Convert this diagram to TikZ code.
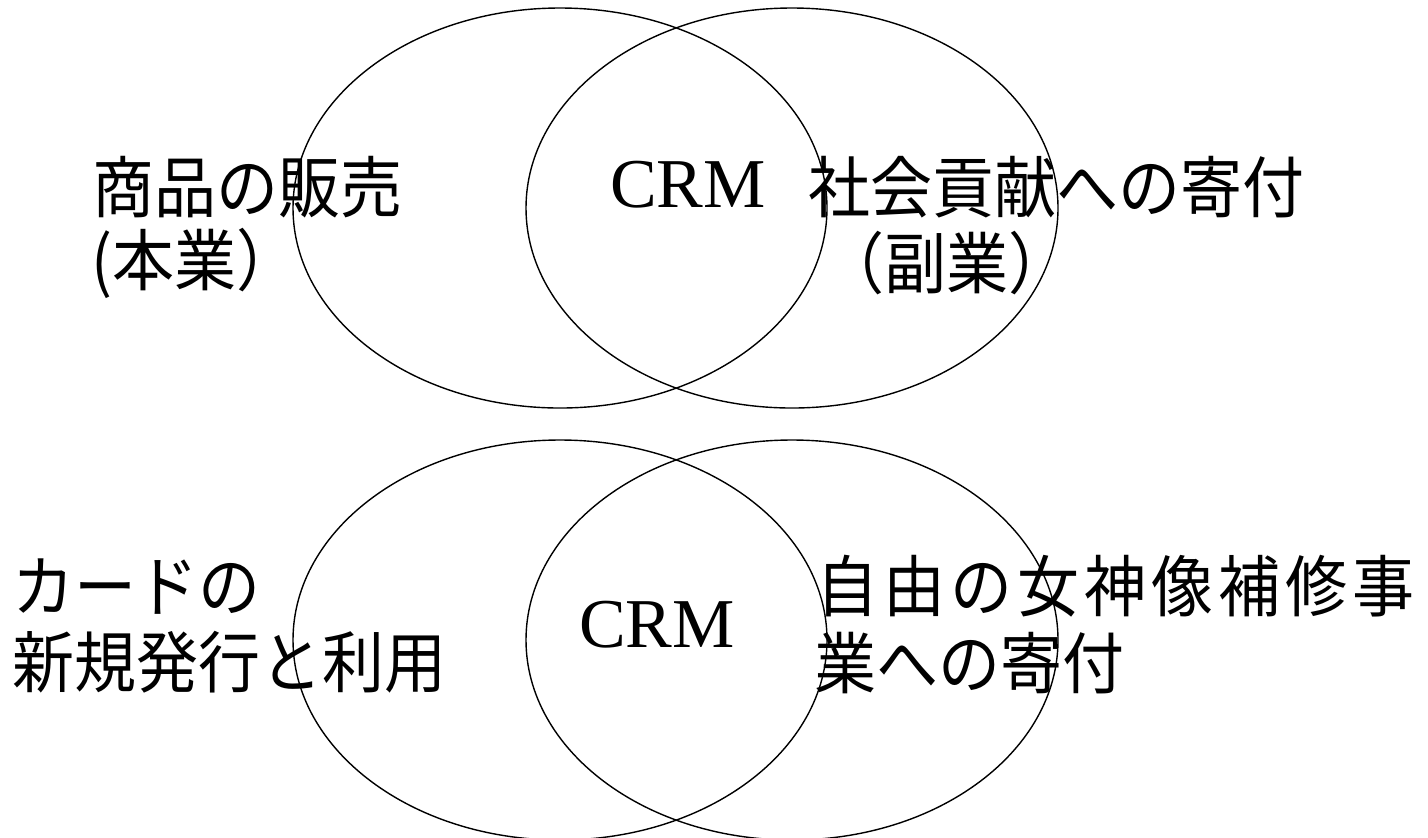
\documentclass[tikz,border=0pt]{standalone}
\usepackage{fontspec}
\setmainfont{Liberation Serif}
\newfontfamily\jp{Noto Sans CJK JP}
\tikzset{
  venn/.style={draw=black, line width=0.7pt},
  jtext/.style={inner sep=0pt, anchor=west, yscale=1.08, font=\jp\fontsize{31pt}{36pt}\selectfont},
  crm/.style={inner sep=0pt, anchor=center, font=\fontsize{35pt}{40pt}\selectfont}
}
\begin{document}
\begin{tikzpicture}[x=0.5pt,y=-0.5pt]
\useasboundingbox (0,0) rectangle (1428,837);
% top diagram
\draw[venn] (560,208) ellipse [x radius=133.5pt, y radius=100pt];
\draw[venn] (792,208) ellipse [x radius=133pt, y radius=100pt];
\node[jtext] (a1) at (92,187) {商品の販売};
\node[jtext] (a2) at (91,263) {(本業）};
\node[crm] (c1) at (688,185) {CRM};
\node[jtext] (b1) at (808,187) {社会貢献への寄付};
\node[jtext] (b2) at (822,263) {（副業）};
% bottom diagram
\draw[venn] (560,640) ellipse [x radius=133.5pt, y radius=100pt];
\draw[venn] (792,640) ellipse [x radius=133pt, y radius=100pt];
\node[jtext] (d1) at (12,587) {カードの};
\node[jtext] (d2) at (12,662) {新規発行と利用};
\node[crm] (c2) at (657,625) {CRM};
\node[jtext] (e1) at (816,586) {自\kern2.5pt 由\kern2.5pt の\kern2.5pt 女\kern2.5pt 神\kern2.5pt 像\kern2.5pt 補\kern2.5pt 修\kern2.5pt 事};
\node[jtext] (e2) at (814,663) {業への寄付};
\end{tikzpicture}
\end{document}
